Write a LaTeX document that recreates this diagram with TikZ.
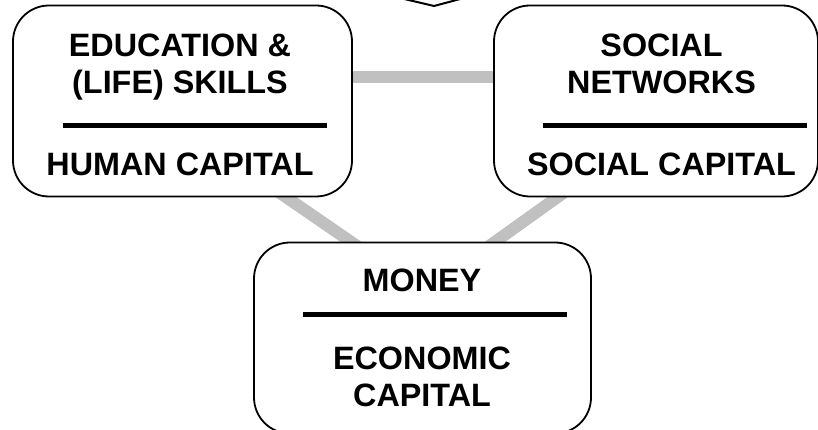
\documentclass[tikz,border=0pt]{standalone}
\usepackage{fontspec}
\setmainfont{Liberation Sans}
\usepackage{tikz}
\usetikzlibrary{positioning, calc, backgrounds}
\definecolor{linkgray}{RGB}{192,192,192}

\begin{document}
\begin{tikzpicture}[
    capbox/.style = {rectangle, rounded corners=0.9cm, draw=black, line width=0.045cm,
                     fill=white, minimum height=4.775cm, inner sep=0pt},
    caption/.style = {anchor=base, inner sep=0pt, font=\fontsize{23}{26}\selectfont\bfseries},
    sepline/.style = {line width=0.125cm},
    link/.style = {linkgray, line width=0.3cm}
  ]
  \useasboundingbox (0,0) rectangle (20.45,10.75);
  \clip (0,0) rectangle (20.45,10.75);

  \node (hum) [capbox, minimum width = 8.475cm] at (4.5625,8.225) {};
  \node (soc) [capbox, minimum width = 8.1cm] at (16.4,8.225) {};
  \node (eco) [capbox, minimum width = 8.425cm] at (10.5625,2.3) {};

  \node (hum1) [caption] at (4.5,9.325) {EDUCATION \&};
  \node (hum2) [caption] at (4.5,8.4) {(LIFE) SKILLS};
  \node (hum3) [caption] at (4.5,6.35) {HUMAN CAPITAL};
  \draw [sepline] (1.575,7.6125) -- (8.175,7.6125);

  \node (soc1) [caption] at (16.5375,9.325) {SOCIAL};
  \node (soc2) [caption] at (16.5375,8.4) {NETWORKS};
  \node (soc3) [caption] at (16.5375,6.35) {SOCIAL CAPITAL};
  \draw [sepline] (13.575,7.6125) -- (20.175,7.6125);

  \node (eco1) [caption] at (10.55,3.45) {MONEY};
  \node (eco2) [caption] at (10.55,1.5) {ECONOMIC};
  \node (eco3) [caption] at (10.55,0.575) {CAPITAL};
  \draw [sepline] (7.575,2.8875) -- (14.175,2.8875);

  % tip of the shape above
  \draw [line width=0.05cm] (10,10.8) -- (10.85,10.6) -- (11.6,10.8);

  \begin{pgfonlayer}{background}
    \path [link]
    ([shift={(-0.3,0.6)}]hum.east) edge ([shift={(0.3,0.6)}]soc.west)
    ([shift={(2.2625,0.23)}]hum.south) edge ([shift={(-1.4625,-0.23)}]eco.north)
    ([shift={(-2.15,0.23)}]soc.south) edge ([shift={(1.5,-0.23)}]eco.north);
  \end{pgfonlayer}
\end{tikzpicture}
\end{document}
